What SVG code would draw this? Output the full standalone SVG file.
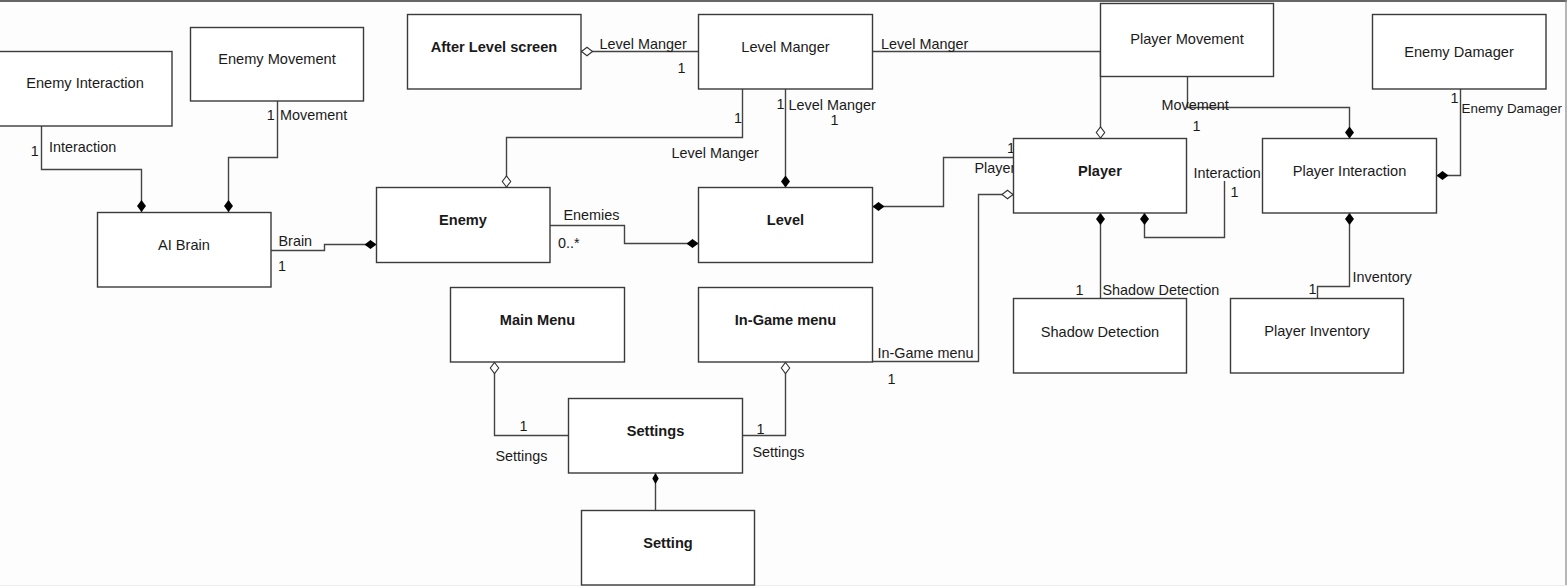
<svg xmlns="http://www.w3.org/2000/svg" width="1567" height="586" viewBox="0 0 1567 586">
<defs>
<style>
.box{fill:#fff;stroke:#3a3a3a;stroke-width:1.4}
.t{font-family:"Liberation Sans",Arial,sans-serif;font-size:14.6px;fill:#1a1a1a;text-anchor:middle}
.b{font-weight:bold}
.l{font-family:"Liberation Sans",Arial,sans-serif;font-size:14.4px;fill:#1a1a1a}
.c{fill:none;stroke:#444;stroke-width:1.4}
.f{marker-start:url(#fd)}
.h{marker-start:url(#hd)}
</style>
<marker id="fd" viewBox="0 0 12 10" refX="0" refY="5" markerWidth="12" markerHeight="10" markerUnits="userSpaceOnUse" orient="auto">
<path d="M0,5 L6,0.5 L12,5 L6,9.5 Z" fill="#000" stroke="none"/>
</marker>
<marker id="hd" viewBox="-1 -1 14 12" refX="0" refY="5" markerWidth="14" markerHeight="12" markerUnits="userSpaceOnUse" orient="auto">
<path d="M0.5,5 L6,0.8 L11.5,5 L6,9.2 Z" fill="#fff" stroke="#333" stroke-width="1.1"/>
</marker>
<marker id="sd" viewBox="0 0 11 7" refX="0" refY="3.5" markerWidth="11" markerHeight="7" markerUnits="userSpaceOnUse" orient="auto">
<path d="M0,3.5 L5.5,0.3 L11,3.5 L5.5,6.7 Z" fill="#000"/>
</marker>
</defs>
<rect x="0" y="0" width="1567" height="586" fill="#fdfdfd"/>
<line x1="0" y1="1" x2="1567" y2="1" stroke="#333" stroke-width="1.6"/>
<line x1="1566" y1="0" x2="1566" y2="586" stroke="#888" stroke-width="1.2"/>
<line x1="0" y1="585.5" x2="1567" y2="585.5" stroke="#eee" stroke-width="1"/>

<g id="connectors">
<path class="c f" d="M141.5,212 V169.5 H41.5 V126"/>
<path class="c f" d="M228.5,212 V157.5 H277.5 V101"/>
<path class="c f" d="M376.5,244.5 H324.5 V250.5 H271"/>
<path class="c f" d="M698.5,243.5 H624.5 V225.5 H550"/>
<path class="c h" d="M581,51.5 H698.5"/>
<path class="c h" d="M506.5,187.5 V137.5 H742.5 V89"/>
<path class="c f" d="M785.5,187.5 V89"/>
<path class="c h" d="M1100.5,138.5 V51.5 H872.5"/>
<path class="c f" d="M1349.5,138.5 V107.5 H1187.5 V76.5"/>
<path class="c f" d="M1436.5,175.5 H1460.5 V89"/>
<path class="c f" d="M872.5,206.5 H943.5 V157.5 H1013.5"/>
<path class="c h" d="M1013.5,194.5 H978.5 V361.5 H872.5"/>
<path class="c f" d="M1144.5,213 V237.5 H1224.5 V181"/>
<path class="c f" d="M1100.5,213 V298.5"/>
<path class="c f" d="M1349.5,213 V286.5 H1317.5 V298.5"/>
<path class="c h" d="M494.5,362 V435.5 H568.5"/>
<path class="c h" d="M785.5,362 V435.5 H742.5"/>
<path class="c" style="marker-start:url(#sd)" d="M655.5,473 V510.5"/>

<text class="l" x="30.7" y="156">1</text>
<text class="l" x="49" y="152">Interaction</text>
<text class="l" x="266.7" y="120">1</text>
<text class="l" x="280" y="120">Movement</text>
<text class="l" x="278.5" y="246">Brain</text>
<text class="l" x="278" y="271">1</text>
<text class="l" x="563.5" y="220">Enemies</text>
<text class="l" x="558" y="248">0..*</text>
<text class="l" x="599.5" y="49">Level Manger</text>
<text class="l" x="677.5" y="73">1</text>
<text class="l" x="734" y="123">1</text>
<text class="l" x="671.5" y="158">Level Manger</text>
<text class="l" x="776.5" y="109">1</text>
<text class="l" x="788.5" y="110">Level Manger</text>
<text class="l" x="830.5" y="124.5">1</text>
<text class="l" x="881" y="49">Level Manger</text>
<text class="l" x="1161.5" y="110">Movement</text>
<text class="l" x="1192.5" y="131">1</text>
<text class="l" x="1450.5" y="103">1</text>
<text class="l" x="1461.5" y="112.5" style="font-size:13.4px">Enemy Damager</text>
<text class="l" x="1007" y="153">1</text>
<text class="l" x="974.5" y="173">Player</text>
<text class="l" x="877.5" y="357.5">In-Game menu</text>
<text class="l" x="887.5" y="384">1</text>
<text class="l" x="1193.5" y="178">Interaction</text>
<text class="l" x="1230.5" y="197">1</text>
<text class="l" x="1075.5" y="295">1</text>
<text class="l" x="1102.5" y="295">Shadow Detection</text>
<text class="l" x="1352.5" y="282">Inventory</text>
<text class="l" x="1308.5" y="294">1</text>
<text class="l" x="519.5" y="430.5">1</text>
<text class="l" x="495.5" y="460.5">Settings</text>
<text class="l" x="756.5" y="434">1</text>
<text class="l" x="752.5" y="457">Settings</text>
</g>

<g id="enemy-interaction"><rect class="box" x="-2.5" y="51.5" width="174.5" height="74.5"/><text class="t" x="85" y="88">Enemy Interaction</text></g>
<g id="enemy-movement"><rect class="box" x="190.5" y="27.5" width="173" height="73.5"/><text class="t" x="277" y="64">Enemy Movement</text></g>
<g id="ai-brain"><rect class="box" x="97.5" y="212.5" width="173.5" height="74.5"/><text class="t" x="184" y="250">AI Brain</text></g>
<g id="enemy"><rect class="box" x="376.5" y="187.5" width="173.5" height="75"/><text class="t b" x="463" y="225">Enemy</text></g>
<g id="after-level-screen"><rect class="box" x="407.5" y="14.5" width="173.5" height="74.5"/><text class="t b" x="494" y="52">After Level screen</text></g>
<g id="level-manger"><rect class="box" x="698.5" y="14.5" width="174" height="74.5"/><text class="t" x="785.5" y="52">Level Manger</text></g>
<g id="level"><rect class="box" x="698.5" y="187.5" width="174" height="75"/><text class="t b" x="785.5" y="225">Level</text></g>
<g id="player-movement"><rect class="box" x="1100.5" y="3.5" width="173" height="73"/><text class="t" x="1187" y="44">Player Movement</text></g>
<g id="enemy-damager"><rect class="box" x="1372.5" y="14.5" width="173.5" height="74.5"/><text class="t" x="1459" y="57">Enemy Damager</text></g>
<g id="player"><rect class="box" x="1013.5" y="138.5" width="173" height="74.5"/><text class="t b" x="1100" y="176">Player</text></g>
<g id="player-interaction"><rect class="box" x="1262.5" y="138.5" width="174" height="74.5"/><text class="t" x="1349.5" y="176">Player Interaction</text></g>
<g id="shadow-detection"><rect class="box" x="1013.5" y="298.5" width="173" height="74.5"/><text class="t" x="1100" y="337">Shadow Detection</text></g>
<g id="player-inventory"><rect class="box" x="1230.5" y="298.5" width="173" height="74.5"/><text class="t" x="1317" y="336">Player Inventory</text></g>
<g id="main-menu"><rect class="box" x="450.5" y="287.5" width="174" height="74.5"/><text class="t b" x="537.5" y="325">Main Menu</text></g>
<g id="in-game-menu"><rect class="box" x="698.5" y="287.5" width="174" height="74.5"/><text class="t b" x="785.5" y="325">In-Game menu</text></g>
<g id="settings"><rect class="box" x="568.5" y="398.5" width="174" height="74.5"/><text class="t b" x="655.5" y="436">Settings</text></g>
<g id="setting"><rect class="box" x="581.5" y="510.5" width="173" height="74.5"/><text class="t b" x="668" y="548">Setting</text></g>
</svg>
